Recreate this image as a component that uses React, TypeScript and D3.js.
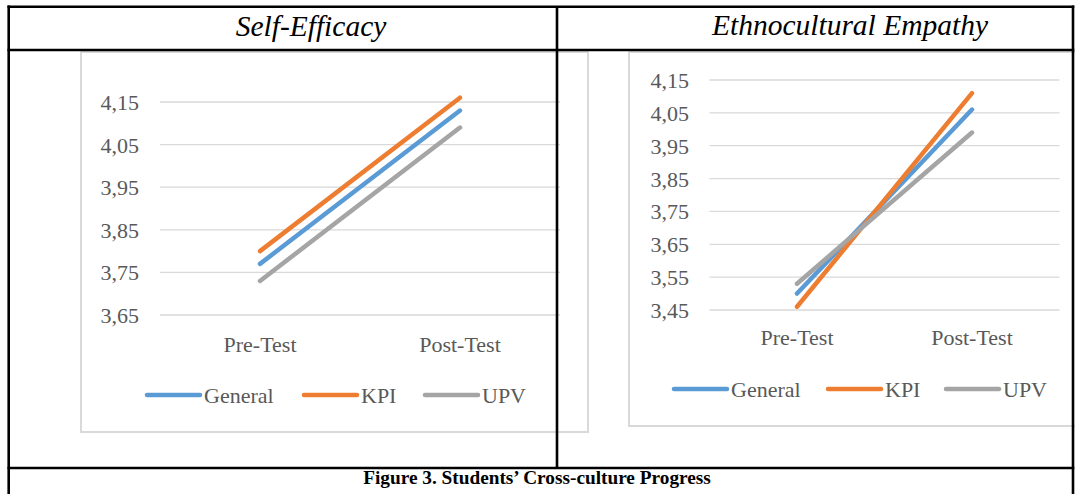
import React from "react";
import * as d3 from "d3";

const categories = ["Pre-Test", "Post-Test"];
const seriesNames = ["General", "KPI", "UPV"];
const seriesColors = ["#5B9BD5", "#ED7D31", "#A5A5A5"];

const selfEfficacyGeneral = [3.77, 4.13];
const selfEfficacyKPI = [3.8, 4.16];
const selfEfficacyUPV = [3.73, 4.09];
const selfEfficacyTicks = [3.65, 3.75, 3.85, 3.95, 4.05, 4.15];

const empathyGeneral = [3.5, 4.06];
const empathyKPI = [3.46, 4.11];
const empathyUPV = [3.53, 3.99];
const empathyTicks = [3.45, 3.55, 3.65, 3.75, 3.85, 3.95, 4.05, 4.15];

const fmt = (v: number) => v.toFixed(2).replace(".", ",");
const FONT = "'Liberation Serif', 'Times New Roman', serif";

type ChartProps = {
  series: number[][];
  ticks: number[];
  frame: [number, number, number, number];
  plotX: [number, number];
  plotY: [number, number];
  labelX: number;
  catY: number;
  legendY: number;
  legendLines: number[];
};

function Chart(p: ChartProps) {
  const x = d3.scalePoint<string>().domain(categories).range(p.plotX).padding(0.5);
  const y = d3
    .scaleLinear()
    .domain([d3.min(p.ticks)!, d3.max(p.ticks)!])
    .range(p.plotY);
  const line = d3
    .line<number>()
    .x((_, i) => x(categories[i])!)
    .y((d) => y(d));
  const [fx0, fy0, fx1, fy1] = p.frame;
  return (
    <g fontFamily={FONT}>
      <rect x={fx0} y={fy0} width={fx1 - fx0} height={fy1 - fy0} fill="none" stroke="#d9d9d9" strokeWidth={2} />
      {p.ticks.map((t) => (
        <g key={t}>
          <line x1={p.plotX[0]} x2={p.plotX[1]} y1={y(t)} y2={y(t)} stroke="#d9d9d9" strokeWidth={1.3} />
          <text x={p.labelX} y={y(t) + 8} textAnchor="end" fontSize={22} fill="#595959">
            {fmt(t)}
          </text>
        </g>
      ))}
      {categories.map((c) => (
        <text key={c} x={x(c)} y={p.catY} textAnchor="middle" fontSize={22} fill="#595959">
          {c}
        </text>
      ))}
      {p.series.map((s, i) => (
        <path key={i} d={line(s)!} fill="none" stroke={seriesColors[i]} strokeWidth={4.5} strokeLinecap="round" />
      ))}
      {seriesNames.map((n, i) => (
        <g key={n}>
          <line
            x1={p.legendLines[i]}
            x2={p.legendLines[i] + 53}
            y1={p.legendY}
            y2={p.legendY}
            stroke={seriesColors[i]}
            strokeWidth={4.5}
            strokeLinecap="round"
          />
          <text x={p.legendLines[i] + 57} y={p.legendY + 8} fontSize={22} fill="#595959">
            {n}
          </text>
        </g>
      ))}
    </g>
  );
}

export default function App() {
  return (
    <svg
      width={1075}
      height={494}
      style={{ position: "absolute", left: 0, top: 0, background: "#fff" }}
    >
      <rect x={0} y={0} width={1075} height={494} fill="#fff" />
      <Chart
        series={[selfEfficacyGeneral, selfEfficacyKPI, selfEfficacyUPV]}
        ticks={selfEfficacyTicks}
        frame={[81, 52, 588, 432]}
        plotX={[160, 560]}
        plotY={[315, 102]}
        labelX={139}
        catY={352}
        legendY={395}
        legendLines={[147, 304, 425]}
      />
      <Chart
        series={[empathyGeneral, empathyKPI, empathyUPV]}
        ticks={empathyTicks}
        frame={[629, 52, 1090, 426]}
        plotX={[709.5, 1059.5]}
        plotY={[310, 80]}
        labelX={689}
        catY={345}
        legendY={389}
        legendLines={[674, 828, 946]}
      />
      {/* table */}
      <g stroke="#000" strokeWidth={2.6} fill="none">
        <line x1={8.7} x2={8.7} y1={5.5} y2={494} />
        <line x1={1073} x2={1073} y1={5.5} y2={494} />
        <line x1={7.5} x2={1074.3} y1={6.8} y2={6.8} />
        <line x1={7.5} x2={1074.3} y1={50} y2={50} />
        <line x1={7.5} x2={1074.3} y1={468} y2={468} />
        <line x1={557} x2={557} y1={6.8} y2={468} />
      </g>
      <text x={311} y={36} textAnchor="middle" fontFamily={FONT} fontStyle="italic" fontSize={29.5} fill="#000">
        Self-Efficacy
      </text>
      <text x={850} y={35} textAnchor="middle" fontFamily={FONT} fontStyle="italic" fontSize={29.5} fill="#000">
        Ethnocultural Empathy
      </text>
      <text x={537} y={484} textAnchor="middle" fontFamily={FONT} fontWeight="bold" fontSize={19.3} fill="#000">
        Figure 3. Students’ Cross-culture Progress
      </text>
    </svg>
  );
}
